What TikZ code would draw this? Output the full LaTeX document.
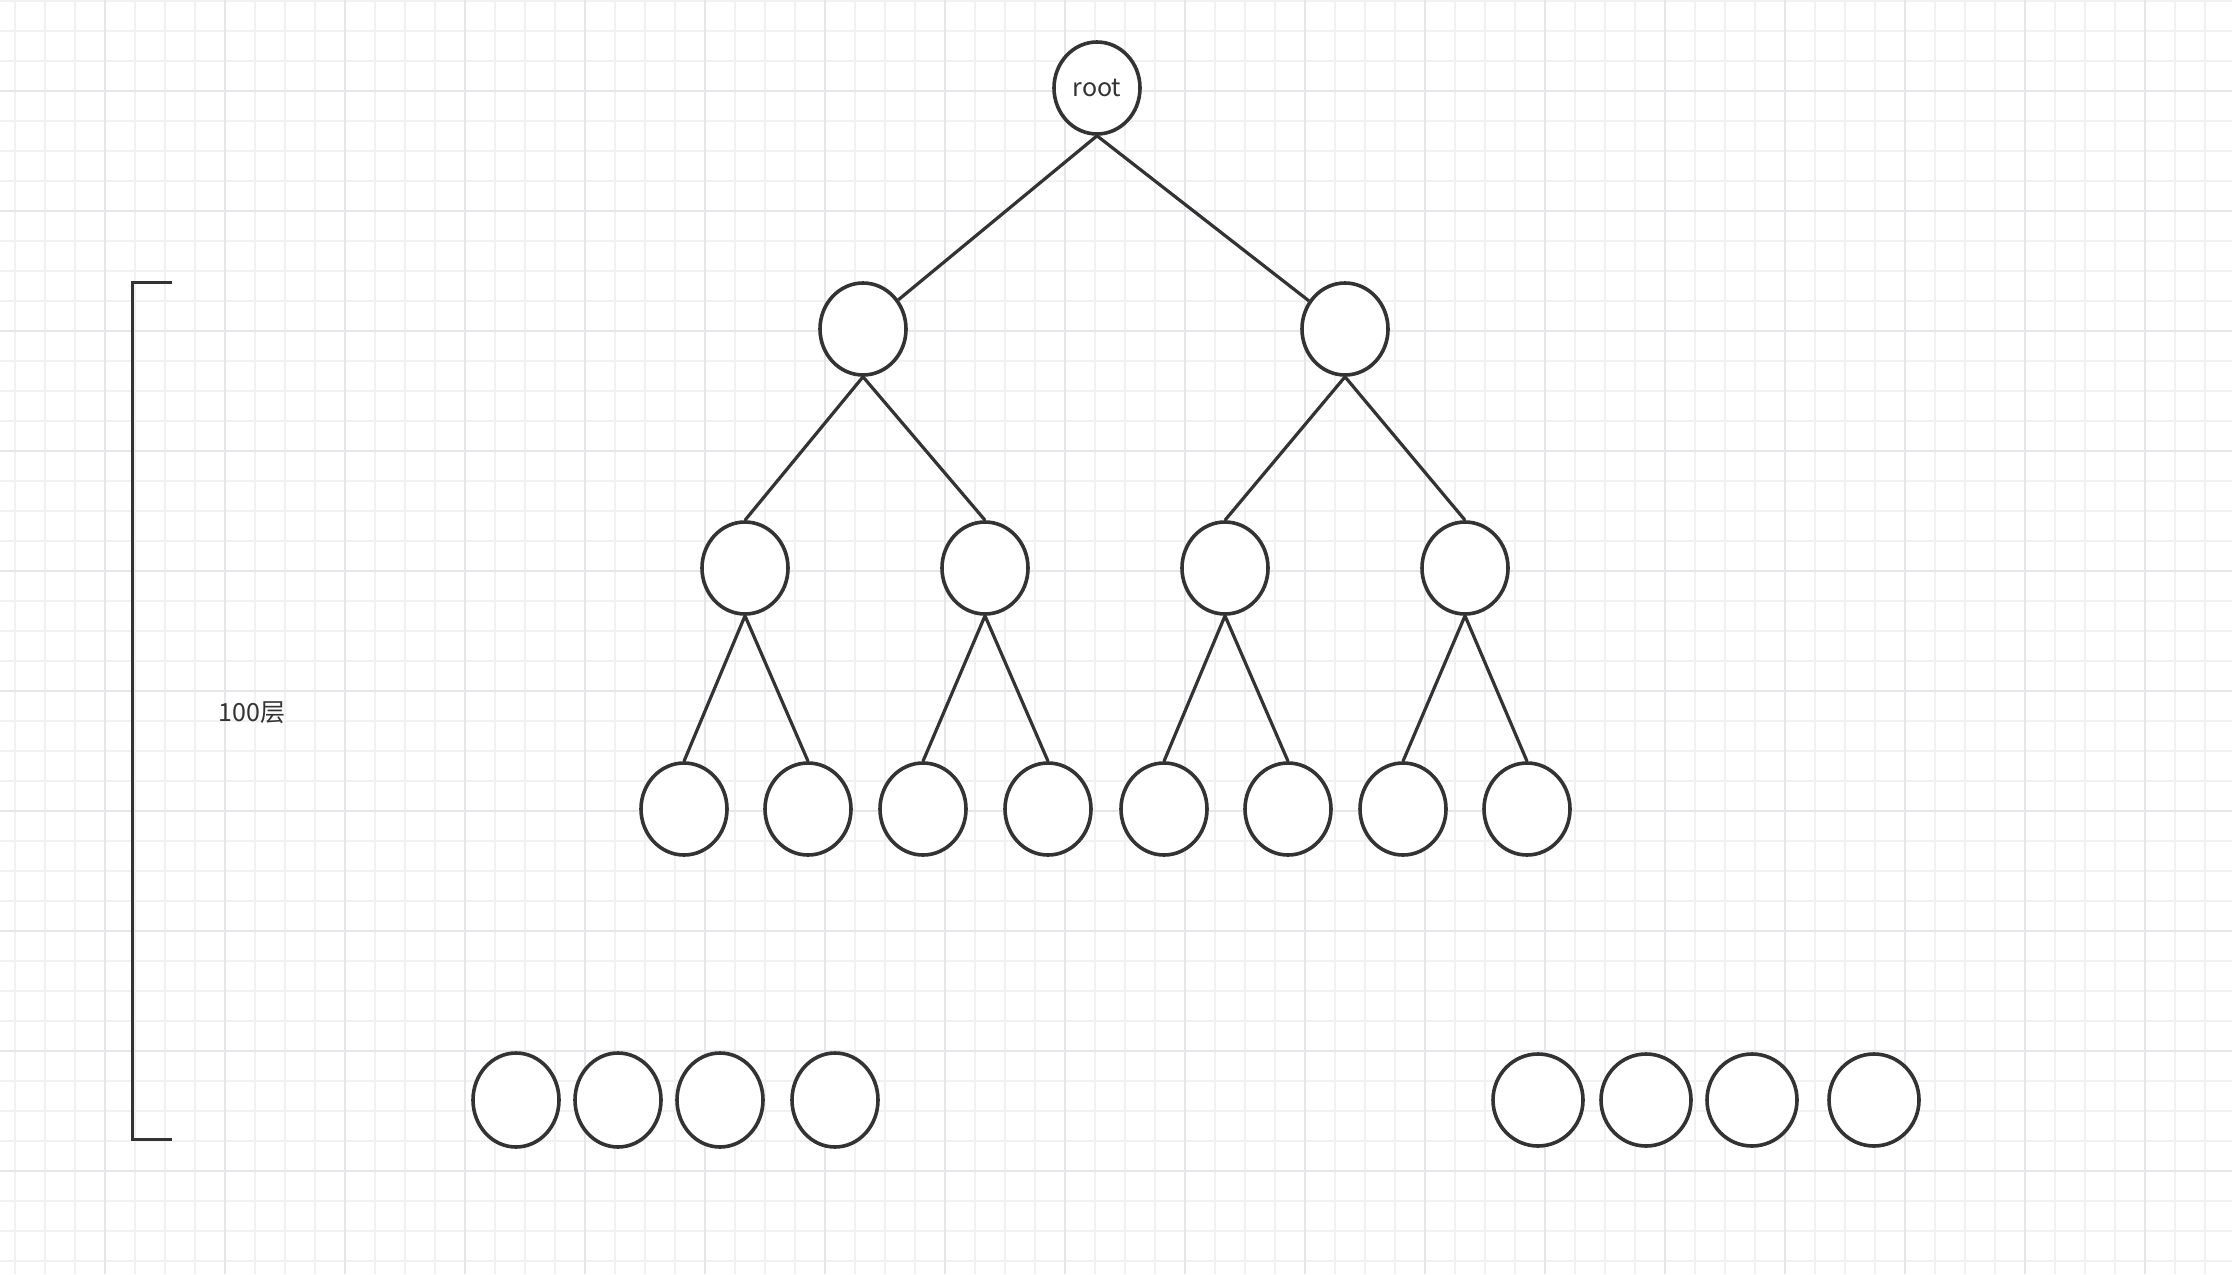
\documentclass[tikz,border=0pt]{standalone}
\usepackage{fontspec}
\setmainfont{Noto Sans CJK SC}
\usepackage{tikz}
\usetikzlibrary{shapes.geometric}
\definecolor{linec}{HTML}{333333}
\definecolor{gridminor}{HTML}{F1F1F3}
\definecolor{gridmajor}{HTML}{E6E6EA}
\begin{document}
\begin{tikzpicture}[x=0.5pt, y=-0.5pt,
  ele/.style={draw=linec, line width=1.8pt, ellipse, fill=white, inner sep=0pt, minimum width=43pt, minimum height=46pt, text=linec, font=\fontsize{12.5}{15}\selectfont},
  edge/.style={draw=linec, line width=1.6pt}]
  % canvas and grid
  \fill[white] (0,0) rectangle (2232,1274);
  \useasboundingbox (0,0) rectangle (2232,1274);
  \foreach \x in {15,45,...,2232} \draw[gridminor, line width=0.6pt] (\x,0) -- (\x,1274);
  \foreach \y in {1,31,...,1274} \draw[gridminor, line width=0.6pt] (0,\y) -- (2232,\y);
  \foreach \x in {105,225,...,2232} \draw[gridmajor, line width=0.9pt] (\x,0) -- (\x,1274);
  \foreach \y in {91,211,...,1274} \draw[gridmajor, line width=0.9pt] (0,\y) -- (2232,\y);

  \node[ele] (r) at (1097,88) {root};

  \node[ele] (b1) at (863,329) {};
  \node[ele] (b2) at (1345,329) {};

  \node[ele] (c1) at (745,568) {};
  \node[ele] (c2) at (985,568) {};
  \node[ele] (c3) at (1225,568) {};
  \node[ele] (c4) at (1465,568) {};

  \node[ele] (d1) at (684,809) {};
  \node[ele] (d2) at (808,809) {};
  \node[ele] (d3) at (923,809) {};
  \node[ele] (d4) at (1048,809) {};
  \node[ele] (d5) at (1164,809) {};
  \node[ele] (d6) at (1288,809) {};
  \node[ele] (d7) at (1403,809) {};
  \node[ele] (d8) at (1527,809) {};

  \node[ele, minimum height=47pt] (e1) at (516,1100) {};
  \node[ele, minimum height=47pt] (e2) at (618,1100) {};
  \node[ele, minimum height=47pt] (e3) at (720,1100) {};
  \node[ele, minimum height=47pt] (e4) at (835,1100) {};
  \node[ele, minimum width=45pt] (e5) at (1538,1100) {};
  \node[ele, minimum width=45pt] (e6) at (1646,1100) {};
  \node[ele, minimum width=45pt] (e7) at (1752,1100) {};
  \node[ele, minimum width=45pt] (e8) at (1874,1100) {};

  \draw[edge] (r.south) -- (b1);
  \draw[edge] (r.south) -- (b2);
  \draw[edge] (b1.south) -- (c1.north);
  \draw[edge] (b1.south) -- (c2.north);
  \draw[edge] (b2.south) -- (c3.north);
  \draw[edge] (b2.south) -- (c4.north);
  \draw[edge] (c1.south) -- (d1.north);
  \draw[edge] (c1.south) -- (d2.north);
  \draw[edge] (c2.south) -- (d3.north);
  \draw[edge] (c2.south) -- (d4.north);
  \draw[edge] (c3.south) -- (d5.north);
  \draw[edge] (c3.south) -- (d6.north);
  \draw[edge] (c4.south) -- (d7.north);
  \draw[edge] (c4.south) -- (d8.north);

  % depth bracket
  \draw[linec, line width=1.5pt] (172,282) -- (132,282) -- (132,1139) -- (172,1139);
  \node[text=linec, font=\fontsize{12.5}{15}\selectfont] (depth) at (252,713) {100层};
\end{tikzpicture}
\end{document}
